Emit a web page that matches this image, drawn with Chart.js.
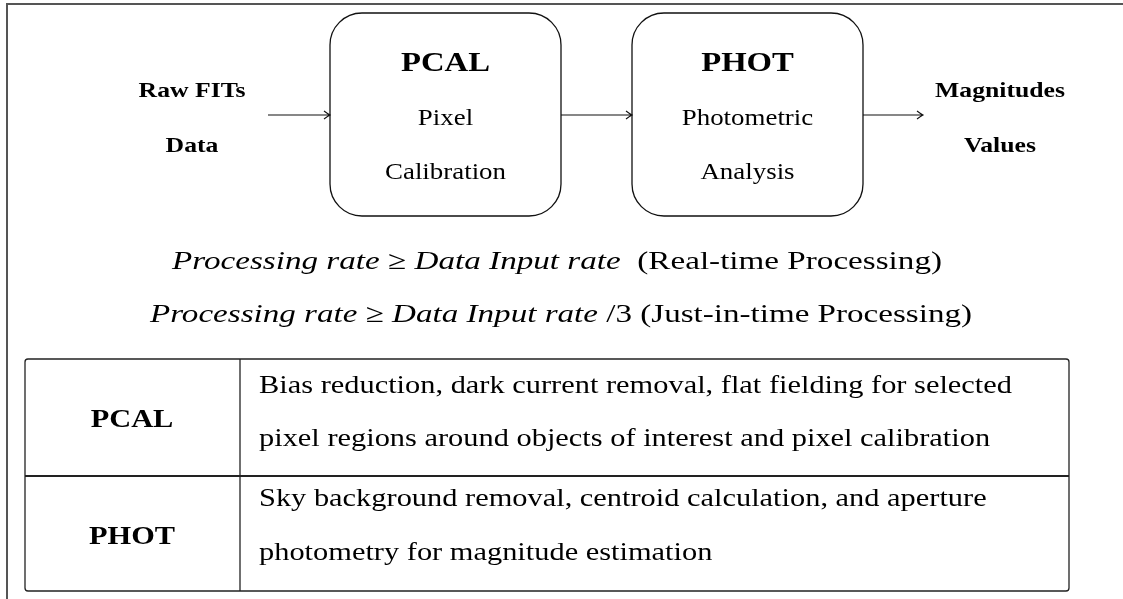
<!DOCTYPE html>
<html>
<head>
<meta charset="utf-8">
<script src="https://cdn.jsdelivr.net/npm/chart.js@4/dist/chart.umd.min.js"></script>
<style>
  html, body { margin: 0; padding: 0; background: #fff; }
  canvas { display: block; }
</style>
</head>
<body>
<canvas id="pipeline-chart" width="1123" height="599"></canvas>
<script>
// pipeline text content
const inputLabel = ['Raw FITs', 'Data'];
const stageNames = ['PCAL', 'PHOT'];
const stageLines = [['Pixel', 'Calibration'], ['Photometric', 'Analysis']];
const outputLabel = ['Magnitudes', 'Values'];

// rate conditions: [italic part, relation, italic part, roman part]
const rateLines = [
  ['Processing rate ', '\u2265', ' Data Input rate', '  (Real-time Processing)'],
  ['Processing rate ', '\u2265', ' Data Input rate', ' /3 (Just-in-time Processing)']
];

// table rows
const tableNames = ['PCAL', 'PHOT'];
const tableDescriptions = [
  ['Bias reduction, dark current removal, flat fielding for selected',
   'pixel regions around objects of interest and pixel calibration'],
  ['Sky background removal, centroid calculation, and aperture',
   'photometry for magnitude estimation']
];

const SERIF = '"Liberation Serif", "Times New Roman", serif';

function fitStretch(ctx, font, text, target) {
  ctx.font = font;
  return target / ctx.measureText(text).width;
}

function stretchedText(ctx, text, x, y, font, sx, align) {
  ctx.font = font;
  const w = ctx.measureText(text).width * sx;
  let left = x;
  if (align === 'center') left = x - w / 2;
  ctx.save();
  ctx.translate(left, y);
  ctx.scale(sx, 1);
  ctx.textAlign = 'left';
  ctx.textBaseline = 'alphabetic';
  ctx.fillText(text, 0, 0);
  ctx.restore();
  return w;
}

function roundRect(ctx, x0, y0, x1, y1, r) {
  ctx.beginPath();
  ctx.moveTo(x0 + r, y0);
  ctx.lineTo(x1 - r, y0);
  ctx.arcTo(x1, y0, x1, y0 + r, r);
  ctx.lineTo(x1, y1 - r);
  ctx.arcTo(x1, y1, x1 - r, y1, r);
  ctx.lineTo(x0 + r, y1);
  ctx.arcTo(x0, y1, x0, y1 - r, r);
  ctx.lineTo(x0, y0 + r);
  ctx.arcTo(x0, y0, x0 + r, y0, r);
  ctx.closePath();
  ctx.stroke();
}

const diagramPlugin = {
  id: 'diagram',
  afterDraw(chart) {
    const ctx = chart.ctx;
    const xs = chart.scales.x, ys = chart.scales.y;
    const X = v => xs.getPixelForValue(v);
    const Y = v => ys.getPixelForValue(v);

    const fReg = sz => sz + 'px ' + SERIF;
    const fBold = sz => 'bold ' + sz + 'px ' + SERIF;
    const fIt = sz => 'italic ' + sz + 'px ' + SERIF;

    // stretch factors so the serif face spans like the original
    const sReg = fitStretch(ctx, fReg(26), tableDescriptions[0][0], X(1012) - X(259));
    const sBold = fitStretch(ctx, fBold(28), stageNames[0], X(489) - X(400));

    ctx.save();
    ctx.fillStyle = '#000';

    // outer frame
    ctx.strokeStyle = '#555';
    ctx.lineWidth = 2;
    ctx.beginPath();
    ctx.moveTo(X(1123), Y(4));
    ctx.lineTo(X(7), Y(4));
    ctx.lineTo(X(7), Y(599));
    ctx.stroke();

    // stage boxes
    ctx.strokeStyle = '#111';
    ctx.lineWidth = 1.3;
    const boxes = [[330, 561], [632, 863]];
    boxes.forEach((b, i) => {
      roundRect(ctx, X(b[0]), Y(13), X(b[1]), Y(216), 32);
      const cx = X((b[0] + b[1]) / 2);
      stretchedText(ctx, stageNames[i], cx, Y(71), fBold(28), sBold, 'center');
      stretchedText(ctx, stageLines[i][0], cx, Y(125), fReg(23), sReg, 'center');
      stretchedText(ctx, stageLines[i][1], cx, Y(179), fReg(23), sReg, 'center');
    });

    // arrows
    const arrows = [[268, 330], [561, 632], [863, 923]];
    ctx.lineWidth = 1.1;
    arrows.forEach(a => {
      const y = Y(115);
      ctx.beginPath();
      ctx.moveTo(X(a[0]), y);
      ctx.lineTo(X(a[1]), y);
      ctx.moveTo(X(a[1]) - 6, y - 4);
      ctx.quadraticCurveTo(X(a[1]) - 2, y - 1, X(a[1]), y);
      ctx.quadraticCurveTo(X(a[1]) - 2, y + 1, X(a[1]) - 6, y + 4);
      ctx.stroke();
    });

    // input / output labels
    const sSide = sBold;
    stretchedText(ctx, inputLabel[0], X(192), Y(97), fBold(22), sSide, 'center');
    stretchedText(ctx, inputLabel[1], X(192), Y(152), fBold(22), sSide, 'center');
    stretchedText(ctx, outputLabel[0], X(1000), Y(97), fBold(22), sSide, 'center');
    stretchedText(ctx, outputLabel[1], X(1000), Y(152), fBold(22), sSide, 'center');

    // rate conditions, each fitted to its span in the original
    const rateBase = [269, 322];
    const rateSpan = [[172, 942], [150, 972]];
    rateLines.forEach((parts, i) => {
      const fonts = [fIt(26), fReg(26), fIt(26), fReg(26)];
      let raw = 0;
      parts.forEach((p, k) => { ctx.font = fonts[k]; raw += ctx.measureText(p).width; });
      const s = (X(rateSpan[i][1]) - X(rateSpan[i][0])) / raw;
      let x = X(rateSpan[i][0]);
      parts.forEach((p, k) => {
        x += stretchedText(ctx, p, x, Y(rateBase[i]), fonts[k], s, 'left');
      });
    });

    // table
    ctx.strokeStyle = '#222';
    ctx.lineWidth = 1.3;
    roundRect(ctx, X(25), Y(359), X(1069), Y(591), 3);
    ctx.beginPath();
    ctx.moveTo(X(240), Y(359));
    ctx.lineTo(X(240), Y(591));
    ctx.stroke();
    ctx.lineWidth = 2;
    ctx.beginPath();
    ctx.moveTo(X(25), Y(476));
    ctx.lineTo(X(1069), Y(476));
    ctx.stroke();

    const nameBase = [427, 544];
    const descBase = [[393, 446], [506, 560]];
    tableNames.forEach((n, i) => {
      stretchedText(ctx, n, X(132), Y(nameBase[i]), fBold(26), sBold, 'center');
      tableDescriptions[i].forEach((line, k) => {
        stretchedText(ctx, line, X(259), Y(descBase[i][k]), fReg(26), sReg, 'left');
      });
    });

    ctx.restore();
  }
};

const ctx = document.getElementById('pipeline-chart');
new Chart(ctx, {
  type: 'scatter',
  data: { datasets: [{ data: [], pointRadius: 0 }] },
  options: {
    responsive: false,
    animation: false,
    layout: { padding: 0 },
    plugins: { legend: { display: false }, tooltip: { enabled: false } },
    scales: {
      x: { type: 'linear', min: 0, max: 1123, display: false },
      y: { type: 'linear', min: 0, max: 599, reverse: true, display: false }
    }
  },
  plugins: [diagramPlugin]
});
</script>
</body>
</html>
